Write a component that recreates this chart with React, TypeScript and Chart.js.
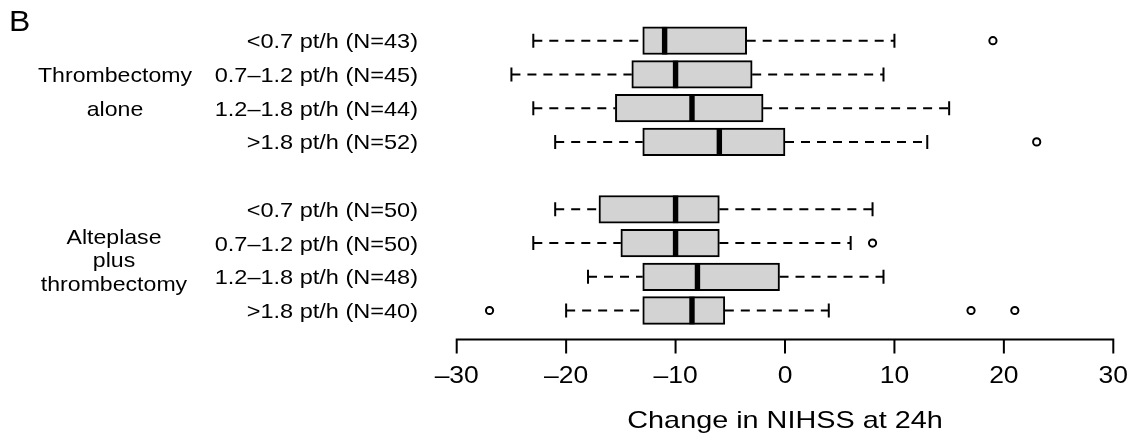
import React, { useEffect, useRef } from "react";
import { Chart, registerables } from "chart.js";

Chart.register(...registerables);

const ROW_LABELS = [
  "<0.7 pt/h (N=43)",
  "0.7–1.2 pt/h (N=45)",
  "1.2–1.8 pt/h (N=44)",
  ">1.8 pt/h (N=52)",
  "<0.7 pt/h (N=50)",
  "0.7–1.2 pt/h (N=50)",
  "1.2–1.8 pt/h (N=48)",
  ">1.8 pt/h (N=40)",
];
const POSITIONS = [1, 2, 3, 4, 6, 7, 8, 9];
const WHISKER_LOW = [-23, -25, -23, -21, -21, -23, -18, -20];
const Q1 = [-13, -14, -15.5, -13, -17, -15, -13, -13];
const MEDIAN = [-11, -10, -8.5, -6, -10, -10, -8, -8.5];
const Q3 = [-3.5, -3, -2, 0, -6, -6, -0.5, -5.5];
const WHISKER_HIGH = [10, 9, 15, 13, 8, 6, 9, 4];
const OUTLIERS = [[19], [], [], [23], [], [8], [], [-27, 17, 21]];
const X_TICKS = [-30, -20, -10, 0, 10, 20, 30];
const X_TICK_LABELS = ["–30", "–20", "–10", "0", "10", "20", "30"];
const GROUP1_LINES = ["Thrombectomy", "alone"];
const GROUP2_LINES = ["Alteplase", "plus", "thrombectomy"];
const PANEL_LETTER = "B";
const X_TITLE = "Change in NIHSS at 24h";

const FONT = '"Liberation Sans", Arial, sans-serif';
const BOX_H = 27.6;

function sText(ctx: CanvasRenderingContext2D, text: string, x: number, y: number, align: string, size: number, sx: number) {
  ctx.save();
  ctx.font = `${size}px ${FONT}`;
  ctx.textBaseline = "alphabetic";
  ctx.textAlign = "left";
  const w = ctx.measureText(text).width * sx;
  const x0 = align === "right" ? x - w : align === "center" ? x - w / 2 : x;
  ctx.translate(x0, y);
  ctx.scale(sx, 1);
  ctx.fillStyle = "#000";
  ctx.fillText(text, 0, 0);
  ctx.restore();
}

const boxPlugin = {
  id: "boxParts",
  beforeDatasetsDraw(chart: any) {
    const ctx = chart.ctx as CanvasRenderingContext2D;
    const xs = chart.scales.x;
    const ys = chart.scales.y;
    ctx.save();
    ctx.strokeStyle = "#000";
    ctx.lineWidth = 2;
    POSITIONS.forEach((p, i) => {
      const y = ys.getPixelForValue(p);
      ctx.setLineDash([9, 7]);
      ctx.beginPath();
      ctx.moveTo(xs.getPixelForValue(WHISKER_LOW[i]), y);
      ctx.lineTo(xs.getPixelForValue(Q1[i]), y);
      ctx.moveTo(xs.getPixelForValue(Q3[i]), y);
      ctx.lineTo(xs.getPixelForValue(WHISKER_HIGH[i]), y);
      ctx.stroke();
      ctx.setLineDash([]);
      ctx.beginPath();
      const lo = xs.getPixelForValue(WHISKER_LOW[i]);
      const hi = xs.getPixelForValue(WHISKER_HIGH[i]);
      ctx.moveTo(lo, y - 7);
      ctx.lineTo(lo, y + 7);
      ctx.moveTo(hi, y - 7);
      ctx.lineTo(hi, y + 7);
      ctx.stroke();
    });
    ctx.restore();
  },
  afterDatasetsDraw(chart: any) {
    const ctx = chart.ctx as CanvasRenderingContext2D;
    const xs = chart.scales.x;
    const ys = chart.scales.y;
    ctx.save();
    ctx.fillStyle = "#000";
    POSITIONS.forEach((p, i) => {
      const y = ys.getPixelForValue(p);
      const x = xs.getPixelForValue(MEDIAN[i]);
      ctx.fillRect(x - 2.7, y - BOX_H / 2, 5.4, BOX_H);
    });
    ctx.restore();
  },
  afterDraw(chart: any) {
    const ctx = chart.ctx as CanvasRenderingContext2D;
    const xs = chart.scales.x;
    const ys = chart.scales.y;
    const area = chart.chartArea;
    ctx.save();
    ctx.strokeStyle = "#000";
    ctx.lineWidth = 2;
    ctx.beginPath();
    const ay = area.bottom;
    ctx.moveTo(xs.getPixelForValue(X_TICKS[0]), ay);
    ctx.lineTo(xs.getPixelForValue(X_TICKS[X_TICKS.length - 1]), ay);
    X_TICKS.forEach((t) => {
      const x = xs.getPixelForValue(t);
      ctx.moveTo(x, ay - 1);
      ctx.lineTo(x, ay + 14);
    });
    ctx.stroke();
    ctx.restore();
    X_TICKS.forEach((t, i) => {
      sText(ctx, X_TICK_LABELS[i], xs.getPixelForValue(t), ay + 43, "center", 23, 1.15);
    });
    sText(ctx, X_TITLE, xs.getPixelForValue(0), ay + 88, "center", 24, 1.2);
    POSITIONS.forEach((p, i) => {
      sText(ctx, ROW_LABELS[i], 418, ys.getPixelForValue(p) + 7.5, "right", 21, 1.12);
    });
    GROUP1_LINES.forEach((t, i) => {
      sText(ctx, t, 115, ys.getPixelForValue(2 + i) + 7.5, "center", 21, 1.1);
    });
    const g2c = ys.getPixelForValue(7.5);
    GROUP2_LINES.forEach((t, i) => {
      sText(ctx, t, 114, g2c + (i - 1) * 23.5 + 7.5, "center", 21, 1.1);
    });
    sText(ctx, PANEL_LETTER, 9, 31, "left", 29, 1.1);
  },
};

export default function App() {
  const ref = useRef<HTMLCanvasElement | null>(null);
  useEffect(() => {
    if (!ref.current) return;
    const chart = new Chart(ref.current, {
      type: "bar",
      data: {
        datasets: [
          {
            type: "bar",
            data: POSITIONS.map((p, i) => ({ y: p, x: [Q1[i], Q3[i]] })) as any,
            backgroundColor: "#d3d3d3",
            borderColor: "#000",
            borderWidth: 2,
            borderSkipped: false,
            barThickness: BOX_H,
          } as any,
          {
            type: "scatter",
            data: POSITIONS.flatMap((p, i) => OUTLIERS[i].map((v) => ({ x: v, y: p }))),
            pointStyle: "circle",
            pointRadius: 3.6,
            pointBorderWidth: 2,
            pointBackgroundColor: "rgba(0,0,0,0)",
            pointBorderColor: "#000",
            showLine: false,
          } as any,
        ],
      },
      options: {
        indexAxis: "y",
        animation: false,
        responsive: false,
        devicePixelRatio: 1,
        layout: { padding: { left: 456.7, right: 15.7, top: 11.7, bottom: 95.5 } },
        plugins: { legend: { display: false }, tooltip: { enabled: false } },
        scales: {
          x: { type: "linear", min: -30, max: 30, display: false, offset: false },
          y: { type: "linear", min: 0.14, max: 9.86, reverse: true, display: false, offset: false },
        },
      } as any,
      plugins: [boxPlugin],
    });
    return () => chart.destroy();
  }, []);
  return (
    <div style={{ position: "absolute", left: 0, top: 0, width: 1129, height: 435, background: "#fff" }}>
      <canvas ref={ref} width={1129} height={435} style={{ width: 1129, height: 435, display: "block" }} />
    </div>
  );
}
